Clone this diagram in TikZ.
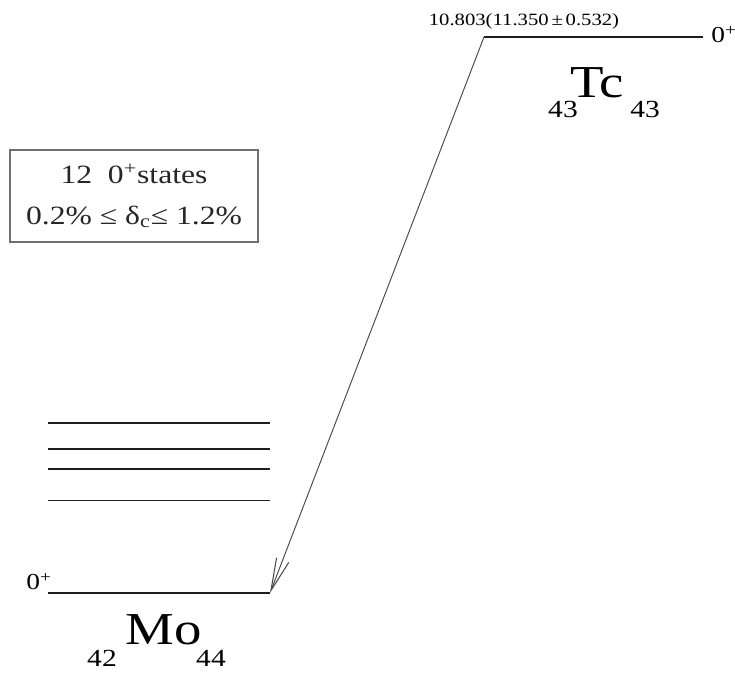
\documentclass[tikz,border=0pt]{standalone}
\usepackage{fontspec}
\setmainfont{Liberation Serif}[FakeStretch=1.2]
\usetikzlibrary{arrows.meta}
\definecolor{LevelInk}{HTML}{1E1E1E}
\definecolor{BoxInk}{HTML}{6E6E6E}
\definecolor{DecayInk}{HTML}{4A4A4A}
\tikzset{
  level/.style={draw=LevelInk, line width=0.85pt},
  weaklevel/.style={draw=LevelInk, line width=0.5pt},
  decay/.style={-{Straight Barb[length=6.5mm, width=2.6mm, line width=0.6pt]},
                draw=DecayInk, line width=0.55pt},
  spin/.style={inner sep=0pt, anchor=base, font=\fontsize{13}{15}\selectfont},
  nucleus/.style={inner sep=0pt, anchor=base, font=\fontsize{26}{28}\selectfont},
  znum/.style={inner sep=0pt, anchor=base, font=\fontsize{14}{16}\selectfont},
  infobox/.style={draw=BoxInk, line width=0.8pt, align=center, inner sep=0pt,
                  minimum width=4.96cm, minimum height=1.84cm,
                  text=black!85, font=\fontsize{15}{23}\selectfont}
}

\begin{document}
\begin{tikzpicture}
  \useasboundingbox (0,0) rectangle (14.7,13.46);

  % parent and daughter ground states
  \coordinate (tcL) at (9.68,12.72);
  \coordinate (tcR) at (14.06,12.72);
  \coordinate (moL) at (0.96,1.60);
  \coordinate (moR) at (5.40,1.60);
  \draw[level] (tcL) -- (tcR);
  \draw[level] (moL) -- (moR);

  % excited 0+ levels
  \foreach \y/\sty in {5.00/level, 4.48/level, 4.08/level, 3.46/weaklevel}
    \draw[\sty] (0.96,\y) -- (5.40,\y);

  \node[inner sep=0pt, anchor=base, font=\fontsize{9.8}{12}\selectfont] (qval)
    at (10.48,12.94) {10.803(11.350\,±\,0.532)};
  \node[spin, anchor=base west] (tcspin) at (14.22,12.60) {0\textsuperscript{+}};
  \node[spin] (mospin) at (0.78,1.66) {0\textsuperscript{+}};

  \node[nucleus] (tc) at (11.94,11.50) {Tc};
  \node[znum] (tcz) at (11.26,11.10) {43};
  \node[znum] (tcn) at (12.90,11.10) {43};

  \node[nucleus] (mo) at (3.28,0.56) {Mo};
  \node[znum] (moz) at (2.04,0.12) {42};
  \node[znum] (mon) at (4.22,0.12) {44};

  \node[infobox] (states) at (2.68,9.54)
    {12\ \ 0\textsuperscript{+}states\\
     0.2\% ≤ δ\textsubscript{c}≤ 1.2\%};

  \draw[decay] (tcL) -- (moR);
\end{tikzpicture}
\end{document}
